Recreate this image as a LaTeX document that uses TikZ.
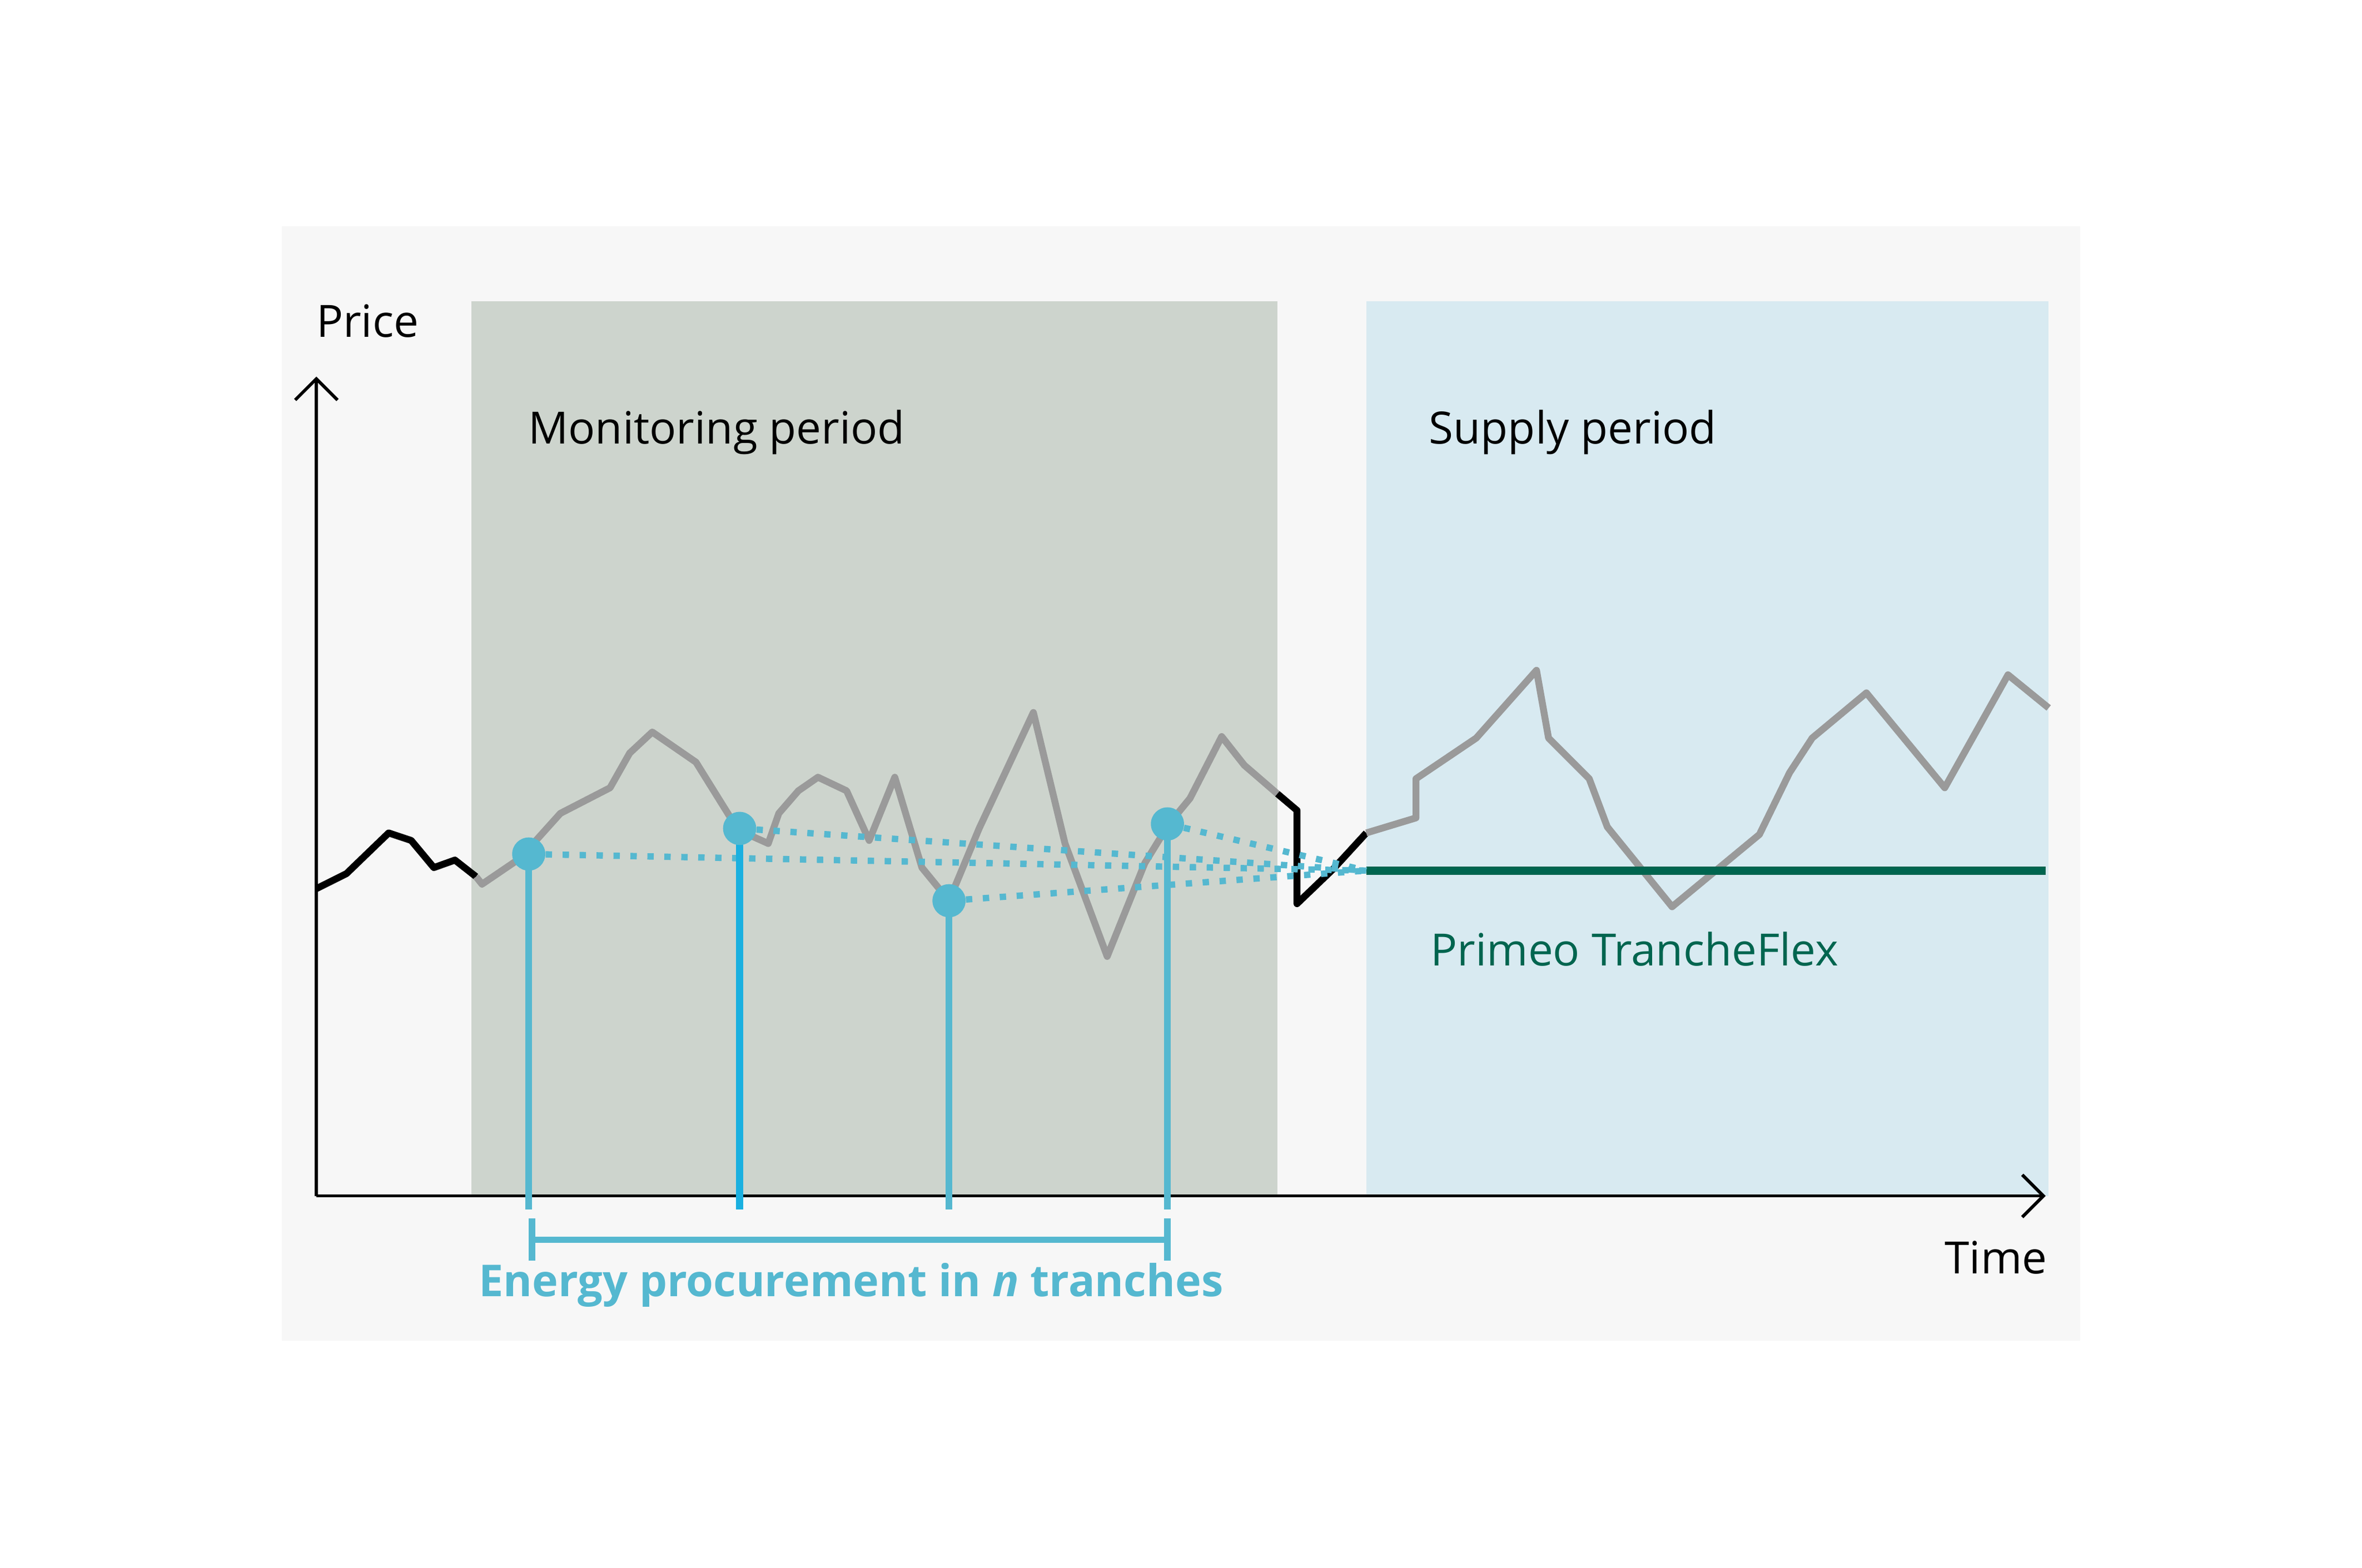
\documentclass[tikz,border=0pt]{standalone}
\usepackage{fontspec}
\setmainfont{Open Sans}
\usetikzlibrary{arrows.meta}
\definecolor{panel}{HTML}{F7F7F7}
\definecolor{monitor}{HTML}{CDD4CD}
\definecolor{supply}{HTML}{D8EAF1}
\definecolor{tranche}{HTML}{55B8D0}
\definecolor{tranchetwo}{HTML}{1AB0E0}
\definecolor{flex}{HTML}{00654F}
\definecolor{pricegray}{HTML}{9A9A9A}
\tikzset{
  lbl/.style={font=\fontsize{8.4}{10}\selectfont, inner sep=0pt},
  price/.style={line width=1.3pt, line join=round, pricegray},
  pricek/.style={line width=1.3pt, line join=round, black},
  stem/.style={line width=1.3pt, tranche},
  dot/.style={circle, fill=tranche, minimum size=0.22cm, inner sep=0pt},
  guide/.style={line width=1.2pt, tranche, dotted}
}
\begin{document}
\begin{tikzpicture}[x=0.01cm, y=-0.01cm]
			\useasboundingbox (0,0) rectangle (1568,1041);
			%panels
			\fill[panel] (187,150) rectangle (1381,890);
			\fill[monitor] (313,200) rectangle (848,794);
			\fill[supply] (907,200) rectangle (1360,794);
			%axis
			\coordinate (origin) at (210,794);
			\coordinate (y top) at (210,250);
			\coordinate (x end) at (1358,794);
			\draw[-{Straight Barb[length=4pt]}, line width=0.6pt] (origin) -- (y top);
			\draw[-{Straight Barb[length=4pt]}, line width=0.6pt] (origin) -- (x end);
			%labels
			\node[lbl] (price lbl) at (244,213) {Price};
			\node[lbl] (time lbl) at (1325,835) {Time};
			\node[lbl, anchor=west] (monitor lbl) at (350,287) {Monitoring period};
			\node[lbl, anchor=west] (supply lbl) at (948,287) {Supply period};
			%price curve
			\draw[pricek] plot coordinates {(210,590) (230,580) (258,553) (273,558) (288,576) (302,571) (316,582)};
			\draw[price] plot coordinates {(316,582) (320,587) (345,570) (372,540) (405,523) (418,500)
				(433,486) (462,506) (490,551) (510,560) (517,540) (530,525) (543,516) (562,525)
				(577,558) (594,516) (612,576) (630,598) (650,550) (686,473) (707,560) (735,635)
				(760,573) (776,547) (790,530) (811,489) (826,508) (848,527)};
			\draw[pricek] plot coordinates {(848,527) (861,538) (861,600) (885,577) (907,553)};
			\draw[price] plot coordinates {(907,553) (940,543) (940,517) (980,490) (1020,445)
				(1028,490) (1055,517) (1067,549) (1110,602) (1168,554) (1188,513) (1203,490)
				(1239,460) (1291,523) (1333,448) (1360,470)};
			%flex price
			\coordinate (flex start) at (907,578);
			\coordinate (flex end) at (1358,578);
			\draw[flex, line width=1.6pt] (flex start) -- (flex end);
			\node[lbl, anchor=west, text=flex] (flex lbl) at (949,630) {Primeo TrancheFlex};
			%tranches
			\foreach \n/\x/\y/\c in {t1/351/567/tranche, t2/491/550/tranchetwo, t3/630/598/tranche, t4/775/547/tranche}{
				\coordinate (\n base) at (\x,803);
				\draw[stem, \c] (\n base) -- (\x,\y);
				\draw[guide] (\x,\y) -- (flex start);
				\node[dot] (\n) at (\x,\y) {};
			}
			%bracket
			\coordinate (br left) at (351,823);
			\coordinate (br right) at (777,823);
			\draw[tranche, line width=1.2pt, {Bar[width=8pt]}-{Bar[width=8pt]}] (br left) -- (br right);
			\node[lbl, text=tranche, font=\fontsize{8.3}{10}\selectfont\bfseries] (tranche lbl) at (565,853)
				{Energy procurement in \textit{n} tranches};
\end{tikzpicture}
\end{document}
